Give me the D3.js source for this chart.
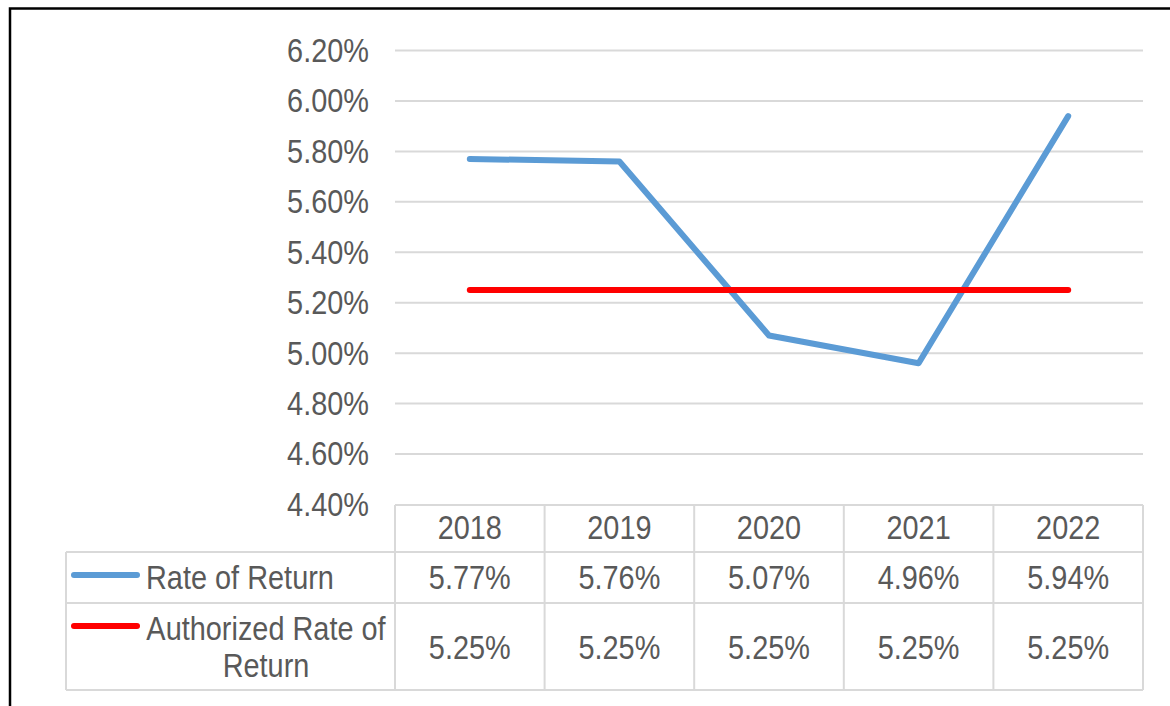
<!DOCTYPE html>
<html>
<head>
<meta charset="utf-8">
<script src="https://cdn.jsdelivr.net/npm/d3@7"></script>
<style>
  html, body { margin: 0; padding: 0; background: #fff; }
  svg { display: block; }
  text { font-family: Arial, "Liberation Sans", sans-serif; fill: #595959; }
</style>
</head>
<body>
<div id="chart"></div>
<script>
// chart data
const years = ["2018", "2019", "2020", "2021", "2022"];
const rateOfReturn = [5.77, 5.76, 5.07, 4.96, 5.94];
const authorizedRate = [5.25, 5.25, 5.25, 5.25, 5.25];
const yTicks = [4.4, 4.6, 4.8, 5.0, 5.2, 5.4, 5.6, 5.8, 6.0, 6.2];

const width = 1170, height = 706;
const fontSize = 28.9;
const stretch = 1.12; // the source text is a bit taller than plain Arial

const svg = d3.select("#chart").append("svg")
    .attr("width", width)
    .attr("height", height);

// frame around the whole figure (right and bottom sides fall off the picture)
svg.append("rect")
    .attr("x", 10).attr("y", 8.5)
    .attr("width", 1300).attr("height", 900)
    .attr("fill", "none")
    .attr("stroke", "#000")
    .attr("stroke-width", 2.5);

// plot area
const plotLeft = 395, plotRight = 1143;
const x = d3.scaleBand().domain(years).range([plotLeft, plotRight]);
const y = d3.scaleLinear().domain([4.4, 6.2]).range([504.5, 50.5]);

// helper for the stretched text
function addText(g, tx, ty, str, anchor) {
    g.append("text")
        .attr("transform", `translate(${tx},${ty}) scale(1,${stretch})`)
        .attr("text-anchor", anchor || "middle")
        .attr("dy", "0.35em")
        .style("font-size", fontSize + "px")
        .text(str);
}

// gridlines
svg.append("g").selectAll("line")
    .data(yTicks.slice(1))
    .enter().append("line")
    .attr("x1", plotLeft).attr("x2", plotRight)
    .attr("y1", d => y(d)).attr("y2", d => y(d))
    .attr("stroke", "#d9d9d9")
    .attr("stroke-width", 2);

// y axis labels
const yLabels = svg.append("g");
yTicks.forEach(t => addText(yLabels, 369, y(t), d3.format(".2f")(t) + "%", "end"));

// lines (blue first, red drawn on top)
const line = d3.line()
    .x((d, i) => x(years[i]) + x.bandwidth() / 2)
    .y(d => y(d));

svg.append("path")
    .datum(rateOfReturn)
    .attr("d", line)
    .attr("fill", "none")
    .attr("stroke", "#5b9bd5")
    .attr("stroke-width", 6)
    .attr("stroke-linecap", "round")
    .attr("stroke-linejoin", "round");

svg.append("path")
    .datum(authorizedRate)
    .attr("d", line)
    .attr("fill", "none")
    .attr("stroke", "#ff0000")
    .attr("stroke-width", 6)
    .attr("stroke-linecap", "round");

// data table under the plot
const tableLeft = 66;
const rowY = [505, 552, 603, 690];
const grid = svg.append("g")
    .attr("stroke", "#d9d9d9")
    .attr("stroke-width", 2)
    .attr("fill", "none");

grid.append("line")
    .attr("x1", plotLeft).attr("x2", plotRight)
    .attr("y1", rowY[0]).attr("y2", rowY[0]);
rowY.slice(1).forEach(ry => {
    grid.append("line")
        .attr("x1", tableLeft).attr("x2", plotRight)
        .attr("y1", ry).attr("y2", ry);
});
grid.append("line")
    .attr("x1", tableLeft).attr("x2", tableLeft)
    .attr("y1", rowY[1]).attr("y2", rowY[3]);
years.concat([null]).forEach((yr, i) => {
    const vx = i < years.length ? x(yr) : plotRight;
    grid.append("line")
        .attr("x1", vx).attr("x2", vx)
        .attr("y1", rowY[0]).attr("y2", rowY[3]);
});

const cells = svg.append("g");
years.forEach((yr, i) => {
    const cx = x(yr) + x.bandwidth() / 2;
    addText(cells, cx, 528, yr);
    addText(cells, cx, 578, d3.format(".2f")(rateOfReturn[i]) + "%");
    addText(cells, cx, 648, d3.format(".2f")(authorizedRate[i]) + "%");
});

// legend keys in the table
const legend = svg.append("g");
legend.append("line")
    .attr("x1", 74).attr("x2", 137)
    .attr("y1", 575).attr("y2", 575)
    .attr("stroke", "#5b9bd5").attr("stroke-width", 6)
    .attr("stroke-linecap", "round");
legend.append("line")
    .attr("x1", 74).attr("x2", 137)
    .attr("y1", 626).attr("y2", 626)
    .attr("stroke", "#ff0000").attr("stroke-width", 6)
    .attr("stroke-linecap", "round");

addText(legend, 146, 578, "Rate of Return", "start");
addText(legend, 266, 629, "Authorized Rate of");
addText(legend, 266, 666, "Return");
</script>
</body>
</html>
